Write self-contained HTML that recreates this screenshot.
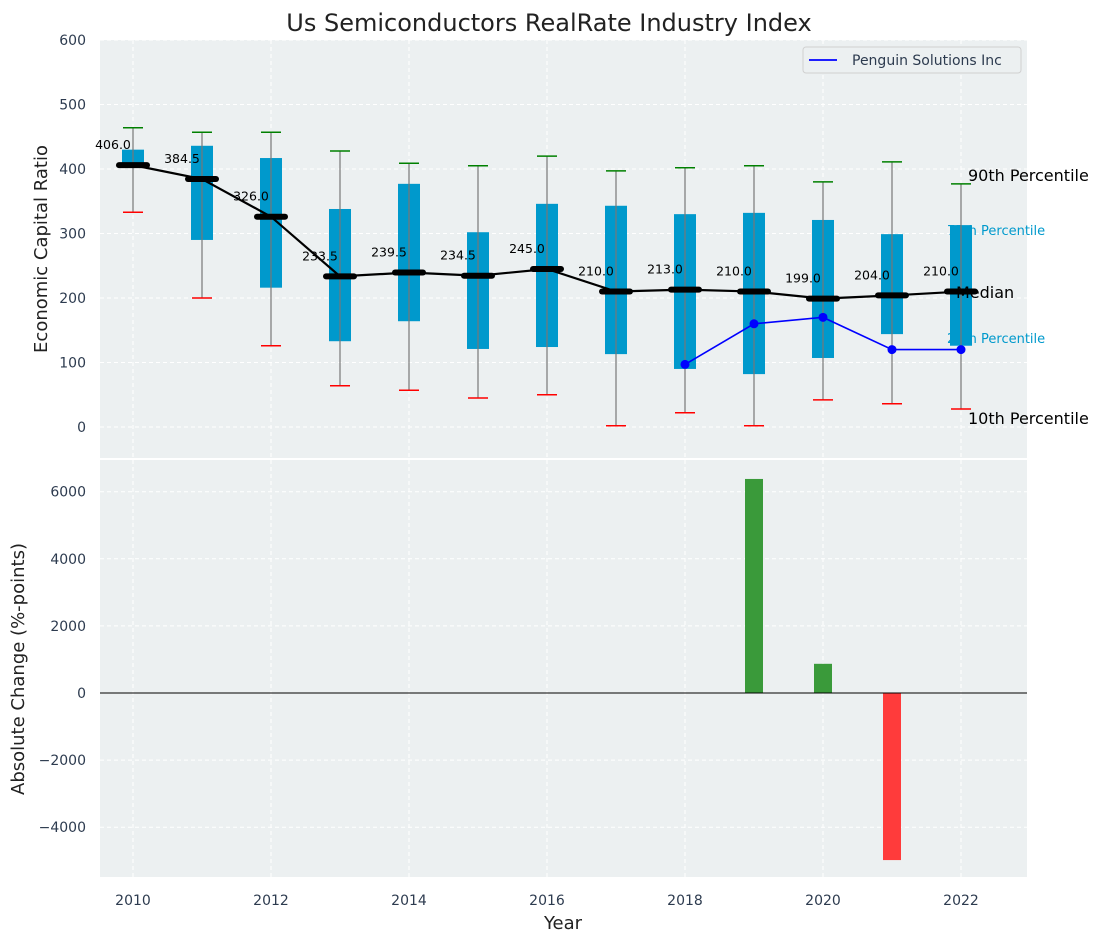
<!DOCTYPE html>
<html><head><meta charset="utf-8"><style>
body{margin:0;background:#fff;font-family:"Liberation Sans","DejaVu Sans",sans-serif}
svg text{font-family:"DejaVu Sans","Liberation Sans",sans-serif}
</style></head><body>
<svg id="c" width="1103" height="942" xmlns="http://www.w3.org/2000/svg"></svg>
<script>
const years=[2010,2011,2012,2013,2014,2015,2016,2017,2018,2019,2020,2021,2022];
const p90=[464,457,457,428,409,405,420,397,402,405,380,411,377];
const p75=[430,436,417,338,377,302,346,343,330,332,321,299,313];
const medians=[406.0,384.5,326.0,233.5,239.5,234.5,245.0,210.0,213.0,210.0,199.0,204.0,210.0];
const p25=[403,290,216,133,164,121,124,113,90,82,107,144,126];
const p10=[333,200,126,64,57,45,50,2,22,2,42,36,28];
const compYears=[2018,2019,2020,2021,2022];
const compVals=[97,160,170,120,120];
const barYears=[2019,2020,2021];
const barVals=[6380,870,-4980];
const topTicks=[0,100,200,300,400,500,600];
const botTicks=[-4000,-2000,0,2000,4000,6000];
const xTicks=[2010,2012,2014,2016,2018,2020,2022];

const svg=document.getElementById('c');const NS='http://www.w3.org/2000/svg';
function el(t,a,txt){const e=document.createElementNS(NS,t);for(const k in a)e.setAttribute(k,a[k]);if(txt!==undefined)e.textContent=txt;svg.appendChild(e);return e;}
const X=y=>133+(y-2010)*69;
const Y1=v=>427-v*0.645;
const Y2=v=>693-v*0.03355;
const L=100,R=1027;
let e;
e=el('rect',{x:L,y:40,width:R-L,height:418,fill:'#ecf0f1'});


e=el('rect',{x:L,y:460,width:R-L,height:417,fill:'#ecf0f1'});


xTicks.forEach(t=>{[[40,458],[460,877]].forEach(r=>{e=el('line',{x1:X(t),x2:X(t),y1:r[0],y2:r[1],stroke:'#fff','stroke-dasharray':'4,3'});});});
topTicks.forEach(t=>{e=el('line',{x1:L,x2:R,y1:Y1(t),y2:Y1(t),stroke:'#fff','stroke-dasharray':'4,3'});
e=el('text',{x:86,y:Y1(t)+5,'text-anchor':'end','font-size':14,fill:'#2d3b4f'},t);});
botTicks.forEach(t=>{e=el('line',{x1:L,x2:R,y1:Y2(t),y2:Y2(t),stroke:'#fff','stroke-dasharray':'4,3'});
e=el('text',{x:86,y:Y2(t)+5,'text-anchor':'end','font-size':14,fill:'#2d3b4f'},t<0?'\u2212'+(-t):t);});
xTicks.forEach(t=>{e=el('text',{x:X(t),y:905,'text-anchor':'middle','font-size':14,fill:'#2d3b4f'},t);});
[['75th Percentile',947,235,13,'#0099cc'],['25th Percentile',947,343,13,'#0099cc']].forEach(a=>{e=el('text',{x:a[1],y:a[2],'font-size':a[3],fill:a[4]},a[0]);});
years.forEach((y,i)=>{const x=X(y);
e=el('rect',{x:x-11,y:Y1(p75[i]),width:22,height:Y1(p25[i])-Y1(p75[i]),fill:'#0099cc'});
e=el('line',{x1:x,x2:x,y1:Y1(p90[i]),y2:Y1(p10[i]),stroke:'#777','stroke-width':1.2});
e=el('line',{x1:x-10,x2:x+10,y1:Y1(p90[i]),y2:Y1(p90[i]),stroke:'green','stroke-width':1.5});
e=el('line',{x1:x-10,x2:x+10,y1:Y1(p10[i]),y2:Y1(p10[i]),stroke:'red','stroke-width':1.5});
});
[['90th Percentile',968,181,16],['Median',956,298,16],['10th Percentile',968,424,16]].forEach(a=>{e=el('text',{x:a[1],y:a[2],'font-size':a[3],fill:'#000'},a[0]);});
e=el('polyline',{points:years.map((y,i)=>X(y)+','+Y1(medians[i])).join(' '),fill:'none',stroke:'#000','stroke-width':2.2});
years.forEach((y,i)=>{const x=X(y);
e=el('line',{x1:x-14,x2:x+14,y1:Y1(medians[i]),y2:Y1(medians[i]),stroke:'#000','stroke-width':6,'stroke-linecap':'round'});
e=el('text',{x:x-20,y:Y1(medians[i])-16,'text-anchor':'middle','font-size':12.5,fill:'#000'},medians[i].toFixed(1));});
e=el('polyline',{points:compYears.map((y,i)=>X(y)+','+Y1(compVals[i])).join(' '),fill:'none',stroke:'#0000ff','stroke-width':1.6});
compYears.forEach((y,i)=>{e=el('circle',{cx:X(y),cy:Y1(compVals[i]),r:4.5,fill:'#0000ff'});});
barYears.forEach((y,i)=>{const v=barVals[i];e=el('rect',{x:X(y)-9,y:Math.min(Y2(v),Y2(0)),width:18,height:Math.abs(Y2(v)-Y2(0)),fill:v>=0?'#3a9a3a':'#ff3b3b'});});
e=el('line',{x1:L,x2:R,y1:Y2(0),y2:Y2(0),stroke:'#000','stroke-width':1});
e=el('rect',{x:803,y:47,width:218,height:26,rx:3,fill:'#ecf0f1',stroke:'#d0d0d0'});
e=el('line',{x1:809,x2:837,y1:60,y2:60,stroke:'#0000ff','stroke-width':1.8});
e=el('text',{x:852,y:65,'font-size':14,fill:'#2d3b4f'},'Penguin Solutions Inc');
e=el('text',{x:549,y:31,'text-anchor':'middle','font-size':24,fill:'#222'},'Us Semiconductors RealRate Industry Index');
e=el('text',{x:563,y:929,'text-anchor':'middle','font-size':18,fill:'#222'},'Year');
e=el('text',{x:47,y:249,'text-anchor':'middle','font-size':18,fill:'#222',transform:'rotate(-90 47 249)'},'Economic Capital Ratio');
e=el('text',{x:24,y:669,'text-anchor':'middle','font-size':18,fill:'#222',transform:'rotate(-90 24 669)'},'Absolute Change (%-points)');
</script>
</body></html>
